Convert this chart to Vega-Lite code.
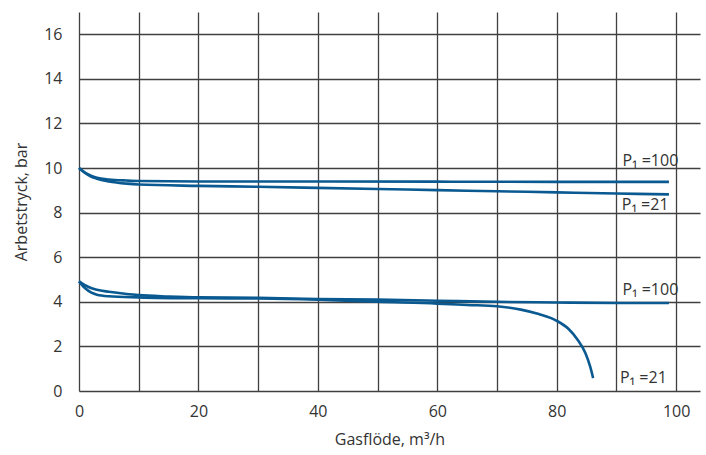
{
  "$schema": "https://vega.github.io/schema/vega-lite/v6.json",
  "autosize": {"type": "none"},
  "padding": {"left": 79, "top": 12, "right": 6, "bottom": 64},
  "width": 621,
  "height": 379,
  "background": "white",
  "config": {
    "view": {"stroke": null},
    "font": "Open Sans",
    "axis": {"labelFont": "Open Sans", "titleFont": "Open Sans", "labelFontSize": 16, "titleFontSize": 16, "labelColor": "#333", "titleColor": "#333", "titleFontWeight": "normal", "domain": false, "ticks": false, "gridColor": "#404040", "gridWidth": 1.3, "gridOpacity": 1, "labelFlush": false, "labelOverlap": false}
  },
  "datasets": {
    "curves": [
      {"s": "u100", "x": 0, "y": 10.0}, {"s": "u100", "x": 1, "y": 9.8}, {"s": "u100", "x": 2, "y": 9.66}, {"s": "u100", "x": 3, "y": 9.57}, {"s": "u100", "x": 5, "y": 9.49}, {"s": "u100", "x": 8, "y": 9.44}, {"s": "u100", "x": 10, "y": 9.42}, {"s": "u100", "x": 20, "y": 9.4}, {"s": "u100", "x": 40, "y": 9.4}, {"s": "u100", "x": 60, "y": 9.39}, {"s": "u100", "x": 80, "y": 9.38}, {"s": "u100", "x": 98.8, "y": 9.38},
      {"s": "u21", "x": 0, "y": 10.0}, {"s": "u21", "x": 1, "y": 9.78}, {"s": "u21", "x": 2, "y": 9.62}, {"s": "u21", "x": 3, "y": 9.52}, {"s": "u21", "x": 5, "y": 9.4}, {"s": "u21", "x": 8, "y": 9.3}, {"s": "u21", "x": 10, "y": 9.26}, {"s": "u21", "x": 20, "y": 9.2}, {"s": "u21", "x": 30, "y": 9.16}, {"s": "u21", "x": 40, "y": 9.11}, {"s": "u21", "x": 50, "y": 9.06}, {"s": "u21", "x": 60, "y": 9.01}, {"s": "u21", "x": 70, "y": 8.96}, {"s": "u21", "x": 80, "y": 8.91}, {"s": "u21", "x": 90, "y": 8.86}, {"s": "u21", "x": 98.8, "y": 8.82},
      {"s": "l100", "x": 0, "y": 4.92}, {"s": "l100", "x": 1, "y": 4.75}, {"s": "l100", "x": 2, "y": 4.62}, {"s": "l100", "x": 3, "y": 4.54}, {"s": "l100", "x": 5, "y": 4.45}, {"s": "l100", "x": 8, "y": 4.35}, {"s": "l100", "x": 10, "y": 4.3}, {"s": "l100", "x": 15, "y": 4.24}, {"s": "l100", "x": 20, "y": 4.2}, {"s": "l100", "x": 30, "y": 4.18}, {"s": "l100", "x": 40, "y": 4.13}, {"s": "l100", "x": 50, "y": 4.1}, {"s": "l100", "x": 60, "y": 4.05}, {"s": "l100", "x": 70, "y": 4.0}, {"s": "l100", "x": 80, "y": 3.97}, {"s": "l100", "x": 90, "y": 3.95}, {"s": "l100", "x": 98.8, "y": 3.95},
      {"s": "l21", "x": 0, "y": 4.92}, {"s": "l21", "x": 1, "y": 4.62}, {"s": "l21", "x": 2, "y": 4.42}, {"s": "l21", "x": 3, "y": 4.32}, {"s": "l21", "x": 5, "y": 4.25}, {"s": "l21", "x": 10, "y": 4.2}, {"s": "l21", "x": 20, "y": 4.16}, {"s": "l21", "x": 30, "y": 4.15}, {"s": "l21", "x": 40, "y": 4.1}, {"s": "l21", "x": 50, "y": 4.0}, {"s": "l21", "x": 60, "y": 3.92}, {"s": "l21", "x": 65, "y": 3.86}, {"s": "l21", "x": 70, "y": 3.8}, {"s": "l21", "x": 74, "y": 3.65}, {"s": "l21", "x": 77, "y": 3.45}, {"s": "l21", "x": 80, "y": 3.15}, {"s": "l21", "x": 82, "y": 2.78}, {"s": "l21", "x": 83.5, "y": 2.3}, {"s": "l21", "x": 84.8, "y": 1.7}, {"s": "l21", "x": 85.6, "y": 1.1}, {"s": "l21", "x": 86.1, "y": 0.58}
    ],
    "labels": [
      {"x": 91.0, "y": 10.1, "t": "P₁ =100"},
      {"x": 90.9, "y": 8.12, "t": "P₁ =21"},
      {"x": 91.0, "y": 4.3, "t": "P₁ =100"},
      {"x": 90.6, "y": 0.36, "t": "P₁ =21"}
    ]
  },
  "layer": [
    {
      "data": {"name": "curves"},
      "mark": {"type": "line", "color": "#0a5a91", "strokeWidth": 2.6, "interpolate": "monotone"},
      "encoding": {
        "x": {"field": "x", "type": "quantitative", "scale": {"domain": [0, 104], "nice": false}, "axis": {"title": "Gasflöde, m³/h", "values": [0, 10, 20, 30, 40, 50, 60, 70, 80, 90, 100], "labelExpr": "datum.value % 20 == 0 ? datum.label : ''", "labelPadding": 12, "titlePadding": 12}},
        "y": {"field": "y", "type": "quantitative", "scale": {"domain": [0, 17], "nice": false}, "axis": {"title": "Arbetstryck, bar", "values": [0, 1, 2, 3, 4, 5, 6, 7, 8, 9, 10, 11, 12, 13, 14, 15, 16], "labelExpr": "datum.value % 2 == 0 ? datum.label : ''", "labelPadding": 17, "titlePadding": 14}},
        "detail": {"field": "s"}
      }
    },
    {
      "data": {"name": "labels"},
      "mark": {"type": "text", "align": "left", "baseline": "alphabetic", "fontSize": 16, "color": "#333", "font": "Open Sans"},
      "encoding": {
        "x": {"field": "x", "type": "quantitative"},
        "y": {"field": "y", "type": "quantitative"},
        "text": {"field": "t"}
      }
    }
  ]
}
